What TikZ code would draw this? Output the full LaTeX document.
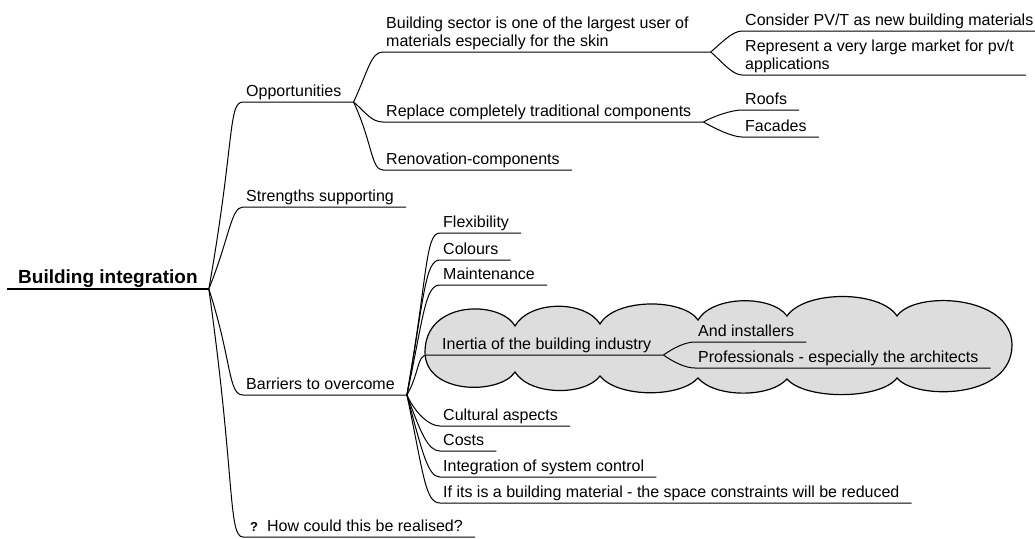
\documentclass[tikz,border=0pt]{standalone}
\usepackage{fontspec}
\setmainfont{Liberation Sans}
\definecolor{cloudgray}{RGB}{221,221,221}
\begin{document}
\begin{tikzpicture}[x=1pt, y=1pt,
  topic/.style={anchor=south west, align=left, inner xsep=3pt, inner ysep=5pt,
    text depth=0pt, font=\fontsize{16}{18.5}\selectfont,
    execute at end node={\hspace*{9pt}}},
  centre/.style={anchor=south west, inner xsep=11pt, inner ysep=5pt,
    text depth=0pt, font=\fontsize{19}{22}\selectfont\bfseries},
  link/.style={line width=1pt, in=180}]
\useasboundingbox (0,0) rectangle (1035,-538);

% cloud round the inertia branch
\filldraw[fill=cloudgray, line width=1.2pt]
  (425,-352) .. controls (425,-300) and (500,-300) .. (515,-326)
  .. controls (530,-300) and (585,-300) .. (600,-324)
  .. controls (615,-298) and (683,-298) .. (698,-320)
  .. controls (713,-295) and (772,-295) .. (787,-316)
  .. controls (805,-290) and (880,-290) .. (897,-316)
  .. controls (915,-290) and (1012,-295) .. (1012,-345)
  .. controls (1012,-400) and (915,-400) .. (897,-378)
  .. controls (880,-400) and (805,-400) .. (787,-379)
  .. controls (770,-398) and (715,-398) .. (698,-378)
  .. controls (680,-398) and (618,-398) .. (600,-376)
  .. controls (585,-396) and (530,-396) .. (515,-372)
  .. controls (500,-395) and (425,-395) .. (425,-352) -- cycle;

\node[centre] (root) at (7,-289) {Building integration};

\node[topic] (opp) at (243,-102) {Opportunities};
\node[topic] (strength) at (243,-207) {Strengths supporting};
\node[topic] (barrier) at (243,-395) {Barriers to overcome};
\node[topic] (howq) at (243,-537) {\hspace{4pt}{\bfseries\fontsize{13}{14}\selectfont ?}\hspace{9pt}How could this be realised?};

\node[topic] (sector) at (383,-52) {Building sector is one of the largest user of\hspace*{10pt}\\materials especially for the skin};
\node[topic] (replace) at (383,-122) {Replace completely traditional components};
\node[topic] (renov) at (383,-170) {Renovation-components};

\node[topic] (pvt) at (742,-31) {Consider PV/T as new building materials};
\node[topic] (market) at (742,-75) {Represent a very large market for pv/t\\applications};
\node[topic] (roofs) at (742,-110) {Roofs};
\node[topic] (facades) at (742,-137) {Facades};

\node[topic] (flex) at (440,-233) {Flexibility};
\node[topic] (colours) at (440,-260) {Colours};
\node[topic] (maint) at (440,-285) {Maintenance};
\node[topic] (inertia) at (427,-355) {\hspace{12pt}Inertia of the building industry};
\node[topic] (install) at (695,-342) {And installers};
\node[topic] (archi) at (695,-368) {Professionals - especially the architects};
\node[topic] (culture) at (440,-426) {Cultural aspects};
\node[topic] (costs) at (440,-451) {Costs};
\node[topic] (control) at (440,-477) {Integration of system control};
\node[topic] (space) at (440,-503) {If its is a building material - the space constraints will be reduced};

\draw[line width=1.3pt] (root.south west) -- (root.south east);

\draw[link] (root.south east) to[out=80, out distance=150, in distance=15] (opp.south west) -- (opp.south east);
\draw[link] (root.south east) to[out=68, out distance=55, in distance=12] (strength.south west) -- (strength.south east);
\draw[link] (root.south east) to[out=-72, out distance=75, in distance=15] (barrier.south west) -- (barrier.south east);
\draw[link] (root.south east) to[out=-82, out distance=190, in distance=15] (howq.south west) -- (howq.south east);

\draw[link] (opp.south east) to[out=65, out distance=35, in distance=12] (sector.south west) -- (sector.south east);
\draw[link] (opp.south east) to[out=-40, out distance=15, in distance=12] (replace.south west) -- (replace.south east);
\draw[link] (opp.south east) to[out=-65, out distance=45, in distance=12] (renov.south west) -- (renov.south east);

\draw[link] (sector.south east) to[out=40, out distance=12, in distance=10] (pvt.south west) -- (pvt.south east);
\draw[link] (sector.south east) to[out=-40, out distance=12, in distance=10] (market.south west) -- (market.south east);
\draw[link] (replace.south east) to[out=30, out distance=12, in distance=10] (roofs.south west) -- (roofs.south east);
\draw[link] (replace.south east) to[out=-30, out distance=12, in distance=10] (facades.south west) -- (facades.south east);

\draw[link] (barrier.south east) to[out=80, out distance=120, in distance=15] (flex.south west) -- (flex.south east);
\draw[link] (barrier.south east) to[out=80, out distance=100, in distance=15] (colours.south west) -- (colours.south east);
\draw[link] (barrier.south east) to[out=78, out distance=80, in distance=15] (maint.south west) -- (maint.south east);
\draw[link] (barrier.south east) to[out=60, out distance=25, in distance=10] (inertia.south west) -- (inertia.south east);
\draw[link] (barrier.south east) to[out=-65, out distance=22, in distance=10] (culture.south west) -- (culture.south east);
\draw[link] (barrier.south east) to[out=-70, out distance=40, in distance=12] (costs.south west) -- (costs.south east);
\draw[link] (barrier.south east) to[out=-75, out distance=60, in distance=12] (control.south west) -- (control.south east);
\draw[link] (barrier.south east) to[out=-78, out distance=80, in distance=15] (space.south west) -- (space.south east);

\draw[link] (inertia.south east) to[out=35, out distance=12, in distance=10] (install.south west) -- (install.south east);
\draw[link] (inertia.south east) to[out=-35, out distance=12, in distance=10] (archi.south west) -- (archi.south east);
\end{tikzpicture}
\end{document}
